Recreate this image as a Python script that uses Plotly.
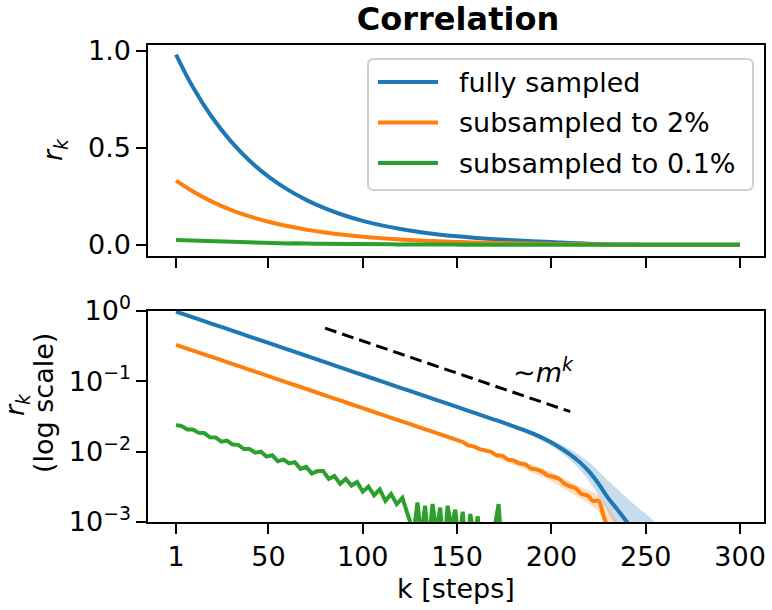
import plotly.graph_objects as go

# ---------------- data ----------------
blue_k = [1, 10, 20, 30, 40, 50, 60, 70, 80, 90, 100, 110, 120, 130, 140, 150, 160, 170, 180,
          190, 200, 205, 210, 215, 220, 225, 230, 235, 240, 245, 250, 260, 270, 280, 290, 300]
blue_r = [0.980, 0.811, 0.658, 0.534, 0.433, 0.351, 0.285, 0.231, 0.187, 0.152, 0.123, 0.0998,
          0.0810, 0.0657, 0.0532, 0.0432, 0.0350, 0.0284, 0.0229, 0.0182, 0.0135, 0.0112, 0.0091,
          0.0071, 0.0052, 0.0035, 0.0022, 0.0015, 0.0010, 0.00063, 0.0004, 0.00015, 0.00006,
          0.00003, 0.00002, 0.00001]

orange_k = [1, 10, 20, 30, 40, 50, 60, 70, 80, 90, 100, 110, 120, 130, 140, 150,
            153, 156, 159, 162, 165, 168, 171, 174, 177, 180, 183, 186, 189, 192, 195, 198,
            201, 204, 207, 210, 213, 216, 219, 222, 225, 227, 229, 232, 236, 240,
            250, 260, 270, 280, 290, 300]
orange_r = [0.330, 0.274, 0.222, 0.180, 0.146, 0.1186, 0.0962, 0.0780, 0.0632, 0.0513, 0.0416,
            0.0337, 0.0274, 0.0222, 0.0180, 0.0146,
            0.0137, 0.0123, 0.0118, 0.0109, 0.0104, 0.0099, 0.0089, 0.0087, 0.0077, 0.0075,
            0.0068, 0.0066, 0.0058, 0.0056, 0.0052, 0.0046, 0.0044, 0.0041, 0.0035, 0.0032,
            0.0030, 0.0025, 0.0024, 0.0020, 0.0020, 0.0014, 0.00095, 0.0006, 0.0003, 0.00015,
            0.00006, 0.00003, 0.00002, 0.00001, 0.00001, 0.00001]

green_k = [1, 4, 7, 10, 13, 16, 19, 22, 25, 28, 31, 34, 37, 40, 43, 46, 49, 52, 55, 58, 61, 64,
           67, 70, 73, 76, 79, 82, 85, 88, 91, 94, 97, 100, 103, 106, 109, 112, 115, 118, 121,
           124, 127, 129, 131, 133, 135, 137, 139, 141, 143, 145, 147, 149, 151, 153, 155, 157,
           159, 161, 163, 166, 169, 172, 174, 178, 181, 190, 200, 220, 240, 260, 280, 300]
green_r = [0.0240, 0.0231, 0.0207, 0.0206, 0.0185, 0.0184, 0.0160, 0.0159, 0.0139, 0.0144,
           0.0126, 0.0125, 0.0109, 0.0109, 0.0097, 0.0100, 0.0085, 0.0089, 0.0073, 0.0077,
           0.0068, 0.0071, 0.0057, 0.0061, 0.0049, 0.0053, 0.0053, 0.0041, 0.0045, 0.0035,
           0.0041, 0.0033, 0.0037, 0.0027, 0.0032, 0.0024, 0.0029, 0.0020, 0.0025, 0.0018,
           0.0022, 0.0013, 0.0007, 0.0019, 0.0006, 0.0017, 0.0005, 0.0018, 0.0007, 0.0016,
           0.0004, 0.0017, 0.0008, 0.0015, 0.0005, 0.0014, 0.0003, 0.0013, 0.0006, 0.0012,
           0.0002, 0.0004, 0.0006, 0.0018, 0.0003, 0.0008, 0.0002, 0.0001, 0.00008, 0.00005,
           0.00003, 0.00002, 0.00001, 0.00001]

blue_band_k = [170, 180, 190, 200, 210, 220, 230, 240, 250, 255, 260]
blue_hi = [0.0295, 0.0245, 0.0195, 0.0148, 0.0107, 0.0071, 0.0039, 0.0022, 0.0013, 0.0010, 0.0007]
blue_lo = [0.0275, 0.0214, 0.0166, 0.0120, 0.0076, 0.0038, 0.0014, 0.0004, 0.0001, 0.00005, 0.00002]

orange_band_k = [170, 180, 190, 200, 210, 220, 225, 230, 235, 240]
orange_hi = [0.0098, 0.0079, 0.0065, 0.0051, 0.0037, 0.0028, 0.0024, 0.0016, 0.0010, 0.0006]
orange_lo = [0.0081, 0.0065, 0.0050, 0.0038, 0.0026, 0.0018, 0.0014, 0.0006, 0.0003, 0.0001]

guide_k = [80, 210]
guide_r = [0.57, 0.037]

series_names = ["fully sampled", "subsampled to 2%", "subsampled to 0.1%"]
x_ticks = [1, 50, 100, 150, 200, 250, 300]
lin_ticks = [0.0, 0.5, 1.0]
lin_tick_text = ["0.0", "0.5", "1.0"]
log_ticks = [1, 0.1, 0.01, 0.001]
log_tick_text = ["10<sup>0</sup>", "10<sup>\u22121</sup>", "10<sup>\u22122</sup>", "10<sup>\u22123</sup>"]

# ---------------- styling / layout geometry ----------------
BLUE, ORANGE, GREEN = "#1f77b4", "#ff7f0e", "#2ca02c"
COLORS = [BLUE, ORANGE, GREEN]
FONT = "DejaVu Sans"
FS = 27
LW = 4
W, H = 772, 610
ML, MR, MT, MB = 148, 8, 45, 88
PW, PH = W - ML - MR, H - MT - MB


def px2x(px):
    return (px - ML) / PW


def px2y(py):
    return (H - MB - py) / PH


fig = go.Figure()

# top panel lines
for k, r, c, n in [(blue_k, blue_r, BLUE, series_names[0]),
                   (orange_k, orange_r, ORANGE, series_names[1]),
                   (green_k, green_r, GREEN, series_names[2])]:
    fig.add_trace(go.Scatter(x=k, y=r, mode="lines", name=n,
                             line=dict(color=c, width=LW, shape="spline" if c != GREEN else "linear"),
                             xaxis="x", yaxis="y", showlegend=False))

# bottom panel bands
for bk, hi, lo, fc in [(blue_band_k, blue_hi, blue_lo, "rgba(31,119,180,0.25)"),
                       (orange_band_k, orange_hi, orange_lo, "rgba(255,127,14,0.25)")]:
    fig.add_trace(go.Scatter(x=bk, y=hi, mode="lines", line=dict(width=0, shape="spline"),
                             xaxis="x2", yaxis="y2", showlegend=False, hoverinfo="skip"))
    fig.add_trace(go.Scatter(x=bk, y=lo, mode="lines", line=dict(width=0, shape="spline"),
                             fill="tonexty", fillcolor=fc,
                             xaxis="x2", yaxis="y2", showlegend=False, hoverinfo="skip"))

# bottom panel lines
for k, r, c, n in [(green_k, green_r, GREEN, series_names[2]),
                   (orange_k, orange_r, ORANGE, series_names[1]),
                   (blue_k, blue_r, BLUE, series_names[0])]:
    fig.add_trace(go.Scatter(x=k, y=r, mode="lines", name=n,
                             line=dict(color=c, width=LW, shape="spline" if c != GREEN else "linear"),
                             xaxis="x2", yaxis="y2", showlegend=False))

fig.add_trace(go.Scatter(x=guide_k, y=guide_r, mode="lines",
                         line=dict(color="black", width=3, dash="12px,6px"),
                         xaxis="x2", yaxis="y2", showlegend=False))

axis_common = dict(showline=True, linecolor="black", linewidth=2.2, mirror=True,
                   ticks="outside", ticklen=9.5, tickwidth=2.2, tickcolor="black",
                   showgrid=False, zeroline=False, automargin=False,
                   tickfont=dict(family=FONT, size=FS, color="black"))

x_range = [-13.85, 312.7]
fig.update_layout(
    width=W, height=H,
    margin=dict(l=ML, r=MR, t=MT, b=MB),
    plot_bgcolor="white", paper_bgcolor="white",
    font=dict(family=FONT, size=FS, color="black"),
    showlegend=False,
    title=dict(text="<b>Correlation</b>", x=px2x(458) * PW / W + ML / W, xref="container",
               xanchor="center", y=1 - 19 / H, yref="container", yanchor="middle",
               font=dict(family=FONT, size=32, color="black")),
    xaxis=dict(domain=[0, 1], range=x_range, anchor="y",
               tickvals=x_ticks, showticklabels=False, **axis_common),
    yaxis=dict(domain=[px2y(256), 1], range=[-0.058, 1.029], anchor="x",
               tickvals=lin_ticks, ticktext=lin_tick_text, **axis_common),
    xaxis2=dict(domain=[0, 1], range=x_range, anchor="y2",
                tickvals=x_ticks, ticktext=[str(v) for v in x_ticks], **axis_common),
    yaxis2=dict(domain=[0, px2y(311)], type="log", range=[-3, 0], anchor="x2",
                tickvals=log_ticks, ticktext=log_tick_text, **axis_common),
)

# axis titles and the m^k note
fig.add_annotation(text="k [steps]", xref="paper", yref="paper",
                   x=0.5, y=px2y(588), xanchor="center", yanchor="middle",
                   showarrow=False, font=dict(family=FONT, size=FS, color="black"))
fig.add_annotation(text="<i>r</i><sub><i>k</i></sub>", xref="paper", yref="paper",
                   x=px2x(55), y=px2y(150), textangle=-90,
                   xanchor="center", yanchor="middle", showarrow=False,
                   font=dict(family=FONT, size=FS, color="black"))
fig.add_annotation(text="<i>r</i><sub><i>k</i></sub>", xref="paper", yref="paper",
                   x=px2x(16), y=px2y(405), textangle=-90,
                   xanchor="center", yanchor="middle", showarrow=False,
                   font=dict(family=FONT, size=FS, color="black"))
fig.add_annotation(text="(log scale)", xref="paper", yref="paper",
                   x=px2x(43), y=px2y(403), textangle=-90,
                   xanchor="center", yanchor="middle", showarrow=False,
                   font=dict(family=FONT, size=FS, color="black"))
fig.add_annotation(text="\u223c<i>m</i><sup><i>k</i></sup>", xref="paper", yref="paper",
                   x=px2x(543), y=px2y(370), xanchor="center", yanchor="middle",
                   showarrow=False, font=dict(family=FONT, size=FS, color="black"))

# legend box (matplotlib style, rounded corners)
bx0, bx1, by0, by1, rr = 368, 753, 59, 190, 6
path = (f"M {px2x(bx0 + rr)},{px2y(by0)} L {px2x(bx1 - rr)},{px2y(by0)} "
        f"Q {px2x(bx1)},{px2y(by0)} {px2x(bx1)},{px2y(by0 + rr)} "
        f"L {px2x(bx1)},{px2y(by1 - rr)} Q {px2x(bx1)},{px2y(by1)} {px2x(bx1 - rr)},{px2y(by1)} "
        f"L {px2x(bx0 + rr)},{px2y(by1)} Q {px2x(bx0)},{px2y(by1)} {px2x(bx0)},{px2y(by1 - rr)} "
        f"L {px2x(bx0)},{px2y(by0 + rr)} Q {px2x(bx0)},{px2y(by0)} {px2x(bx0 + rr)},{px2y(by0)} Z")
fig.add_shape(type="path", path=path, xref="paper", yref="paper",
              line=dict(color="#d0d0d0", width=2), fillcolor="rgba(255,255,255,0.8)", layer="above")
for i, (name, col) in enumerate(zip(series_names, COLORS)):
    yc = 82 + i * 40.5
    fig.add_shape(type="line", xref="paper", yref="paper",
                  x0=px2x(378), x1=px2x(438), y0=px2y(yc), y1=px2y(yc),
                  line=dict(color=col, width=LW), layer="above")
    fig.add_annotation(text=name, xref="paper", yref="paper",
                       x=px2x(457), y=px2y(yc), xanchor="left", yanchor="middle",
                       showarrow=False, font=dict(family=FONT, size=FS, color="black"))

# remove the browser's default 8px page margin so the figure sits at the window origin
fig.write_html("out.html", config={"displayModeBar": False},
               post_script="document.body.style.margin='0';document.body.style.padding='0';")
